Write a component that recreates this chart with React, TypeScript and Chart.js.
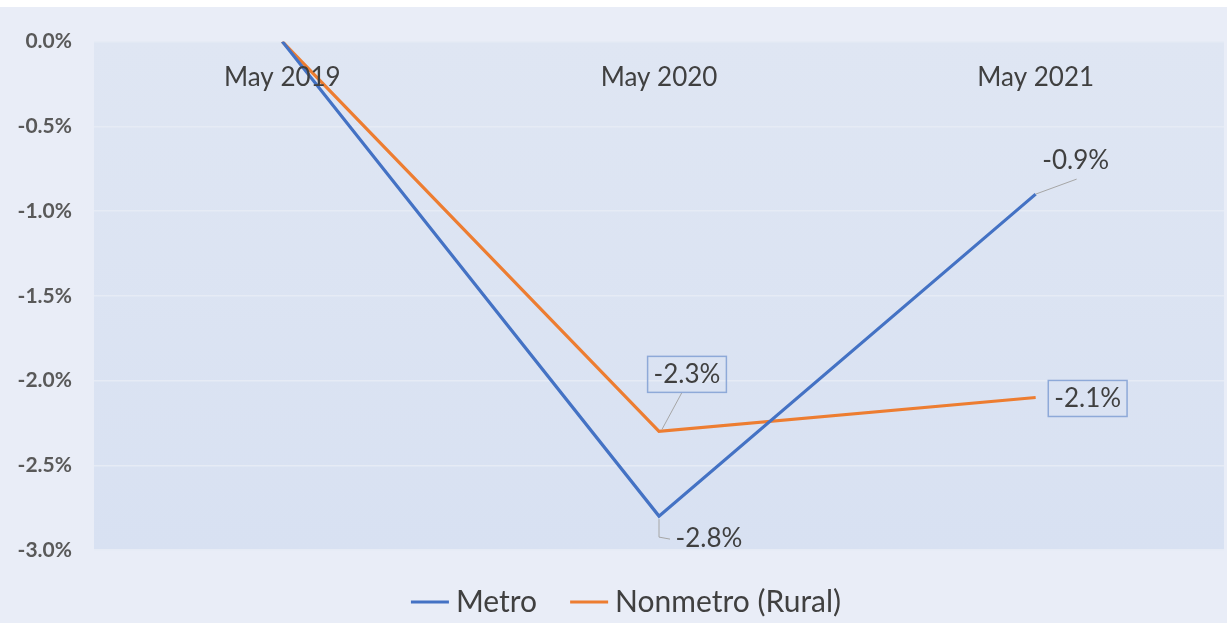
import React, { useEffect, useRef } from "react";
import { Chart, registerables } from "chart.js";

Chart.register(...registerables);

const categories = ["May 2019", "May 2020", "May 2021"];
const metroValues = [0, -2.8, -0.9];
const nonmetroValues = [0, -2.3, -2.1];
const seriesNames = ["Metro", "Nonmetro (Rural)"];
const seriesColors = ["#4472c4", "#ed7d31"];
const yTicks = [0, -0.5, -1.0, -1.5, -2.0, -2.5, -3.0];

const FONT = "Lato, 'Open Sans', sans-serif";
const TEXT = "#404040";

type LabelSpec = { ds: number; idx: number; dx: number; dy: number; box: boolean; leader: number[][] | null };
const labelSpecs: LabelSpec[] = [
  { ds: 0, idx: 2, dx: 40, dy: -34, box: false, leader: [[0, 0], [41, -15]] },
  { ds: 0, idx: 1, dx: 50, dy: 23, box: false, leader: [[0, 3], [0, 21], [11, 23]] },
  { ds: 1, idx: 1, dx: 28, dy: -57, box: true, leader: [[3, -2], [23, -39]] },
  { ds: 1, idx: 2, dx: 52, dy: 1, box: true, leader: null },
];

const fmt = (v: number) => v.toFixed(1) + "%";

const bgPlugin = {
  id: "plotBg",
  beforeDraw(chart: any) {
    const { ctx, chartArea: a } = chart;
    ctx.save();
    const g = ctx.createLinearGradient(0, a.top, 0, a.bottom);
    g.addColorStop(0, "#dfe6f3");
    g.addColorStop(1, "#d8e1f2");
    ctx.fillStyle = g;
    ctx.fillRect(a.left, a.top, a.right - a.left, a.bottom - a.top);
    ctx.restore();
  },
};

const overlayPlugin = {
  id: "overlay",
  afterDatasetsDraw(chart: any) {
    const { ctx, chartArea: a, scales } = chart;
    ctx.save();
    ctx.font = `26px ${FONT}`;
    ctx.fillStyle = TEXT;
    ctx.textAlign = "center";
    ctx.textBaseline = "middle";
    categories.forEach((c, i) => {
      ctx.fillText(c, scales.x.getPixelForValue(i), a.top + 36);
    });
    ctx.font = `26px ${FONT}`;
    labelSpecs.forEach((s) => {
      const pt = chart.getDatasetMeta(s.ds).data[s.idx];
      const val = chart.data.datasets[s.ds].data[s.idx] as number;
      const px = pt.x, py = pt.y;
      if (s.leader) {
        ctx.strokeStyle = "#a6a6a6";
        ctx.lineWidth = 1;
        ctx.beginPath();
        s.leader.forEach((p, k) => (k === 0 ? ctx.moveTo(px + p[0], py + p[1]) : ctx.lineTo(px + p[0], py + p[1])));
        ctx.stroke();
      }
      const tx = px + s.dx, ty = py + s.dy;
      const text = fmt(val);
      if (s.box) {
        const w = ctx.measureText(text).width + 12;
        ctx.strokeStyle = "#8ea9d8";
        ctx.lineWidth = 1.5;
        ctx.strokeRect(tx - w / 2, ty - 18, w, 36);
      }
      ctx.fillStyle = TEXT;
      ctx.fillText(text, tx, ty);
    });
    ctx.restore();
  },
  afterDraw(chart: any) {
    const { ctx, chartArea: a } = chart;
    ctx.save();
    ctx.font = `30px ${FONT}`;
    ctx.textBaseline = "middle";
    const lineW = 38, gap = 7, itemGap = 33;
    const items = chart.data.datasets.map((d: any) => ({ label: d.label, color: d.borderColor, w: ctx.measureText(d.label).width }));
    const total = items.reduce((s: number, it: any) => s + lineW + gap + it.w, 0) + itemGap * (items.length - 1);
    let x = (a.left + a.right) / 2 - 33 - total / 2;
    const y = a.bottom + 52;
    items.forEach((it: any) => {
      ctx.strokeStyle = it.color;
      ctx.lineWidth = 3;
      ctx.beginPath();
      ctx.moveTo(x, y);
      ctx.lineTo(x + lineW, y);
      ctx.stroke();
      ctx.fillStyle = TEXT;
      ctx.textAlign = "left";
      ctx.fillText(it.label, x + lineW + gap, y);
      x += lineW + gap + it.w + itemGap;
    });
    ctx.restore();
  },
};

export default function App() {
  const ref = useRef<HTMLCanvasElement>(null);
  useEffect(() => {
    if (!ref.current) return;
    const chart = new Chart(ref.current, {
      type: "line",
      data: {
        labels: categories,
        datasets: [
          { label: seriesNames[0], data: metroValues, borderColor: seriesColors[0], backgroundColor: seriesColors[0], borderWidth: 3.2, pointRadius: 0, tension: 0 },
          { label: seriesNames[1], data: nonmetroValues, borderColor: seriesColors[1], backgroundColor: seriesColors[1], borderWidth: 3.2, pointRadius: 0, tension: 0 },
        ],
      },
      options: {
        animation: false,
        responsive: true,
        maintainAspectRatio: false,
        layout: { padding: { top: 33, right: 3, bottom: 73, left: 0 } },
        plugins: { legend: { display: false }, tooltip: { enabled: false } },
        scales: {
          x: { type: "category", display: false, offset: true },
          y: {
            min: -3,
            max: 0,
            afterBuildTicks(scale: any) {
              scale.ticks = yTicks.map((v) => ({ value: v }));
            },
            afterFit(scale: any) {
              scale.width = 94;
            },
            border: { display: false },
            grid: { color: "#e6ebf5", lineWidth: 1.5, drawTicks: false },
            ticks: {
              padding: 22,
              color: "#595959",
              font: { family: FONT, size: 21, weight: "bold" },
              callback: (v: any) => fmt(Number(v)),
            },
          },
        },
      },
      plugins: [bgPlugin, overlayPlugin],
    });
    return () => chart.destroy();
  }, []);
  return (
    <div style={{ position: "fixed", left: 0, top: 7, width: 1227, height: 616, background: "#e9edf7" }}>
      <canvas ref={ref} />
    </div>
  );
}
